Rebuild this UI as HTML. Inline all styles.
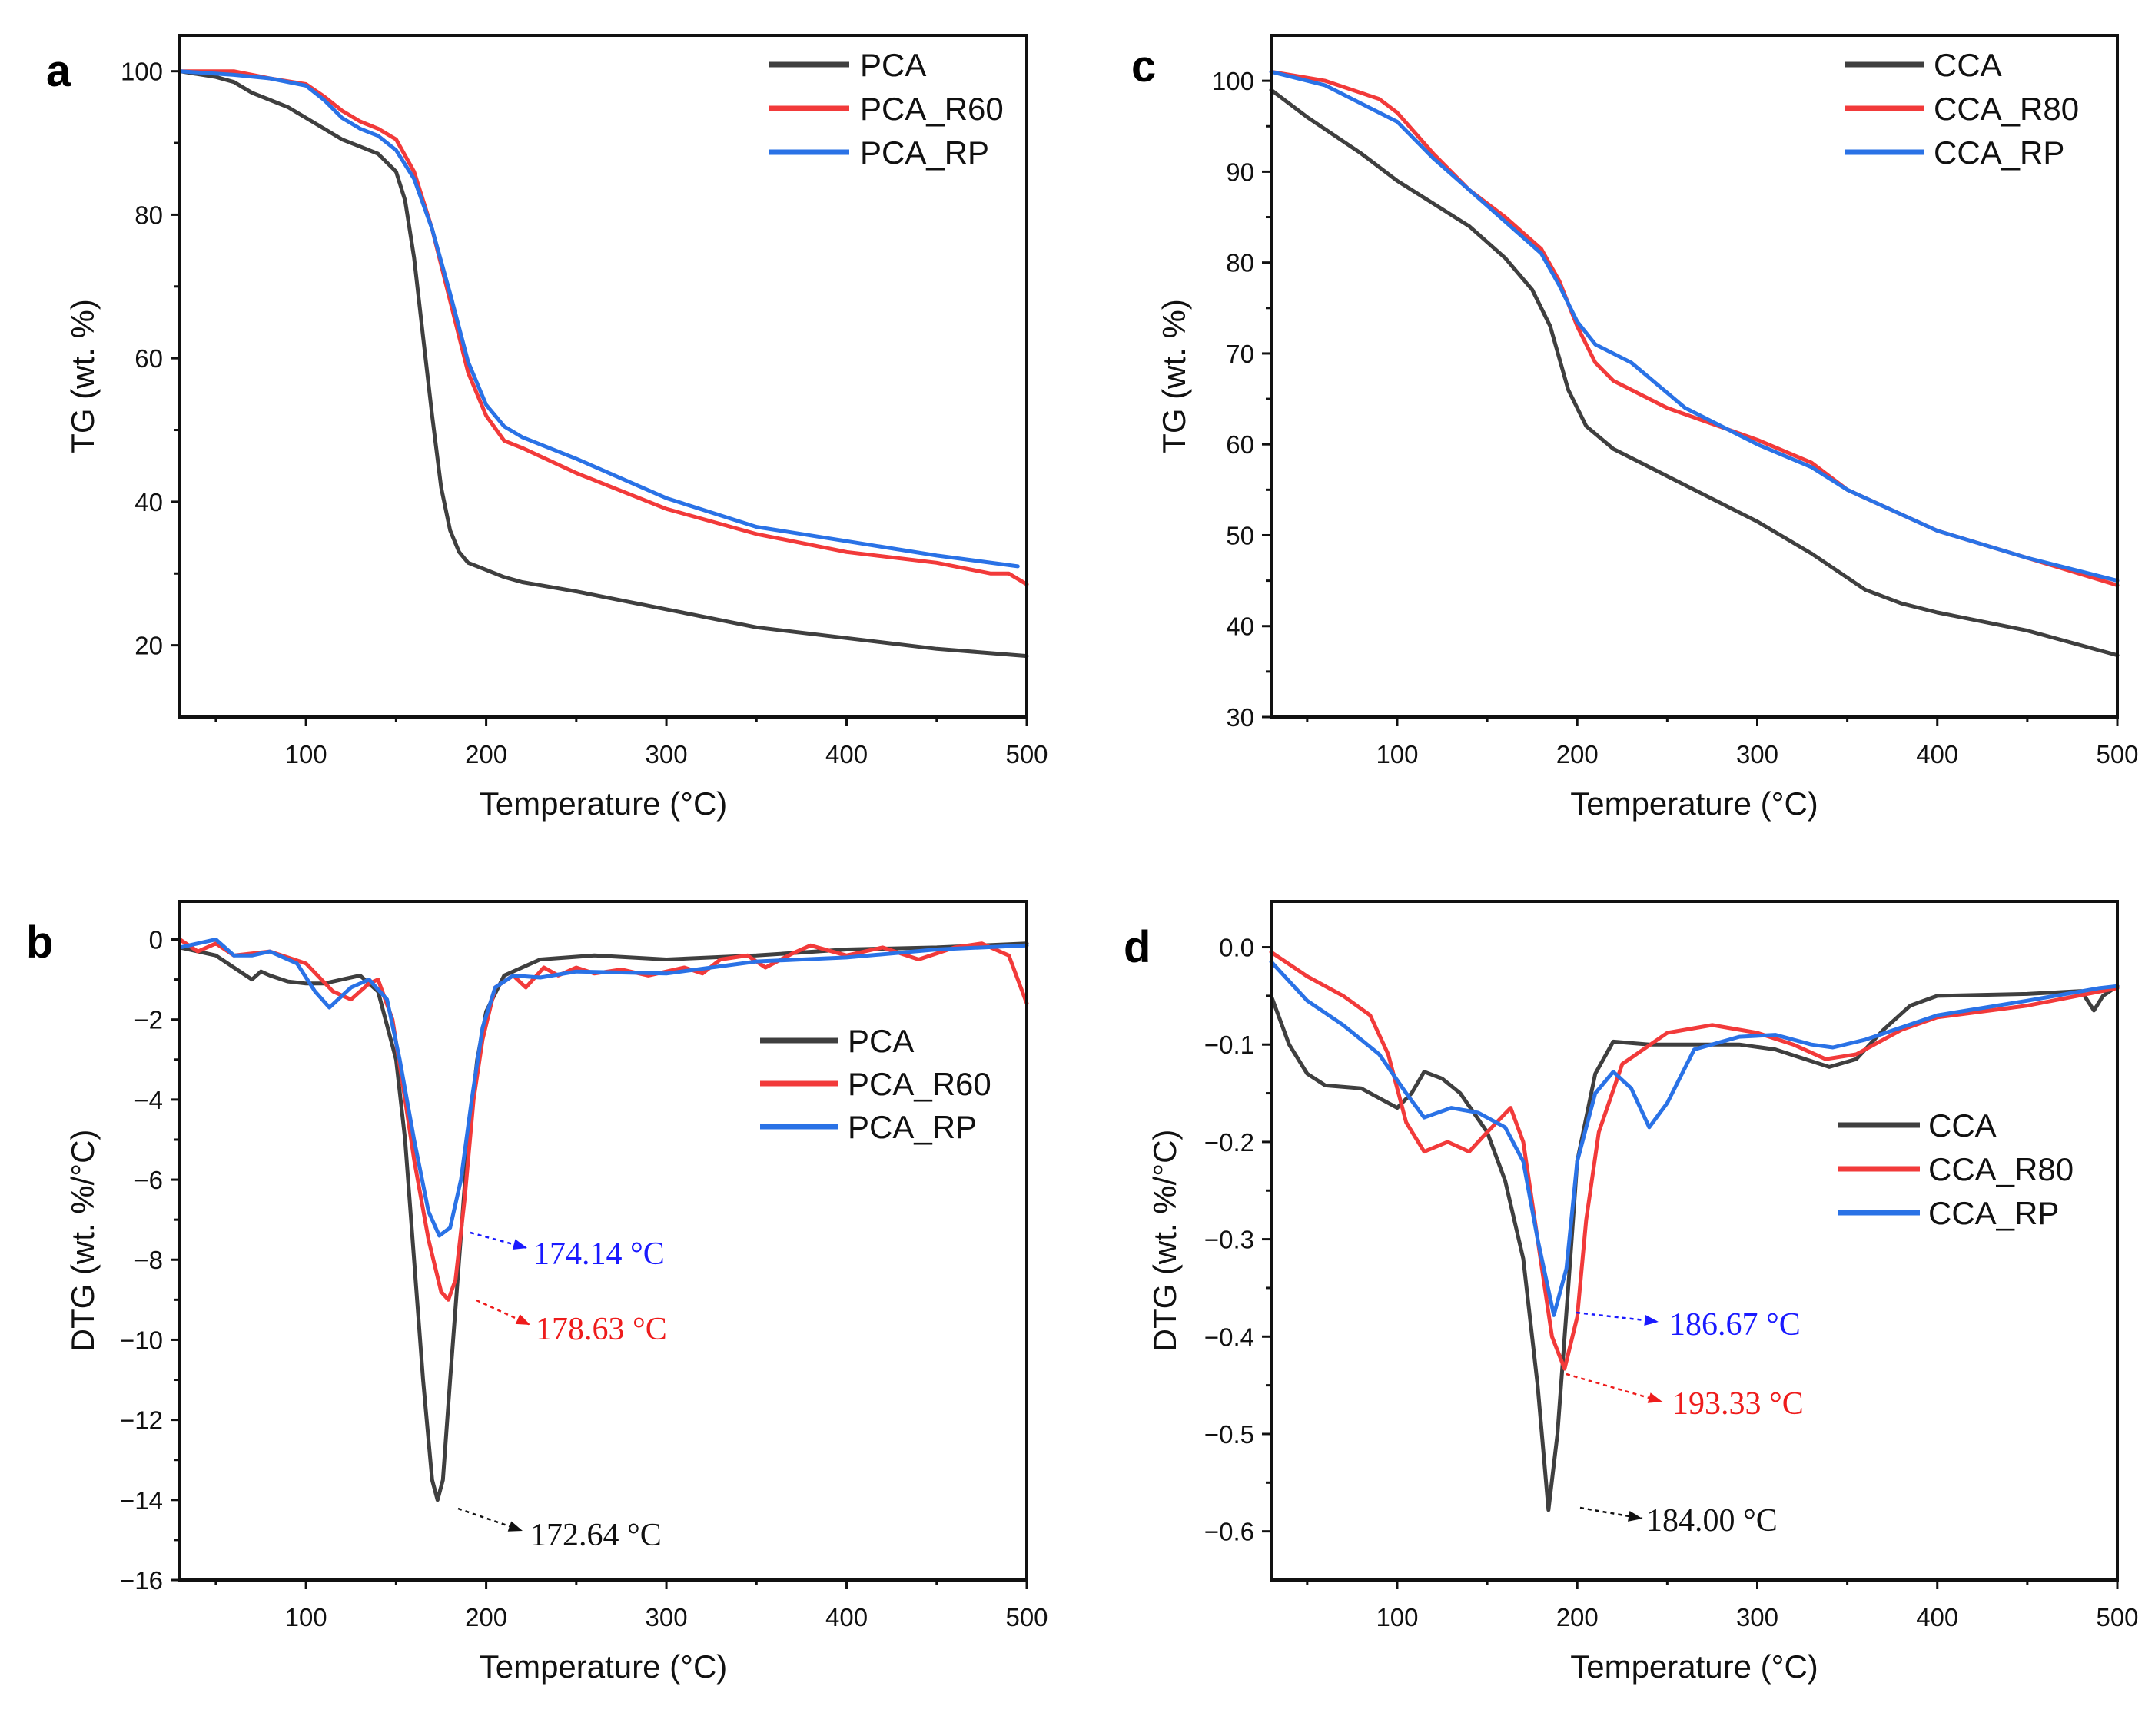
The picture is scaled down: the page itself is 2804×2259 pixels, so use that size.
<!DOCTYPE html>
<html><head><meta charset="utf-8">
<style>
html,body{margin:0;padding:0;background:#fff;}
svg{display:block;font-family:"Liberation Sans",Arial,sans-serif;}
</style></head>
<body>
<svg id="fig" width="2804" height="2259" viewBox="0 0 2804 2259" xmlns="http://www.w3.org/2000/svg"></svg>
<script>
// ---- Panel a data (TG, PCA) ----
const aPCA_T = [30,50,60,70,80,90,100,110,120,130,140,150,155,160,165,170,175,180,185,190,195,200,210,220,250,300,350,400,450,500];
const aPCA_V = [100,99.2,98.5,97,96,95,93.5,92,90.5,89.5,88.5,86,82,74,63,52,42,36,33,31.5,31,30.5,29.5,28.8,27.5,25,22.5,21,19.5,18.5];
const aR60_T = [30,60,80,100,110,120,130,140,150,160,170,180,190,200,210,220,250,300,350,400,450,480,490,500];
const aR60_V = [100,100,99,98.2,96.5,94.5,93,92,90.5,86,78,68,58,52,48.5,47.5,44,39,35.5,33,31.5,30,30,28.5];
const aRP_T = [30,60,80,100,110,120,130,140,150,160,170,180,190,200,210,220,250,300,350,400,450,495];
const aRP_V = [100,99.5,99,98,96,93.5,92,91,89,85,78,69,59.5,53.5,50.5,49,46,40.5,36.5,34.5,32.5,31];
// ---- Panel c data (TG, CCA) ----
const cCCA_T = [30,50,80,100,120,140,160,175,185,195,205,220,250,300,330,360,380,400,450,500];
const cCCA_V = [99,96,92,89,86.5,84,80.5,77,73,66,62,59.5,56.5,51.5,48,44,42.5,41.5,39.5,36.8];
const cR80_T = [30,60,90,100,120,140,160,180,190,200,210,220,250,300,330,350,400,450,500];
const cR80_V = [101,100,98,96.5,92,88,85,81.5,78,73,69,67,64,60.5,58,55,50.5,47.5,44.5];
const cRP_T = [30,60,80,100,120,140,160,180,190,200,210,230,260,300,330,350,400,450,500];
const cRP_V = [101,99.5,97.5,95.5,91.5,88,84.5,81,77.5,73.5,71,69,64,60,57.5,55,50.5,47.5,45];
// ---- Panel b data (DTG, PCA) ----
const bPCA_T = [30,50,60,70,75,80,90,100,110,120,130,140,150,155,160,165,170,173,176,180,185,190,195,200,210,230,260,300,350,400,450,500];
const bPCA_V = [-0.2,-0.4,-0.7,-1.0,-0.8,-0.9,-1.05,-1.1,-1.1,-1.0,-0.9,-1.3,-3,-5,-8,-11,-13.5,-14,-13.5,-11,-8,-5,-3,-1.8,-0.9,-0.5,-0.4,-0.5,-0.4,-0.25,-0.2,-0.1];
const bR60_T = [30,40,50,60,80,100,115,125,135,140,148,155,160,168,175,179,183,188,193,198,205,215,222,232,240,250,260,275,290,310,320,330,345,355,370,380,400,420,440,460,475,490,500];
const bR60_V = [0,-0.3,-0.1,-0.4,-0.3,-0.6,-1.3,-1.5,-1.1,-1.0,-2,-4,-5.5,-7.5,-8.8,-9,-8.5,-6.5,-4,-2.5,-1.2,-0.9,-1.2,-0.7,-0.9,-0.7,-0.85,-0.75,-0.9,-0.7,-0.85,-0.5,-0.4,-0.7,-0.35,-0.15,-0.4,-0.2,-0.5,-0.2,-0.1,-0.4,-1.6];
const bRP_T = [30,40,50,60,70,80,95,105,113,125,135,145,152,160,168,174,180,186,192,198,205,215,230,250,300,350,400,450,500];
const bRP_V = [-0.2,-0.1,0,-0.4,-0.4,-0.3,-0.6,-1.3,-1.7,-1.2,-1.0,-1.5,-3,-5,-6.8,-7.4,-7.2,-6,-4,-2.2,-1.2,-0.9,-0.95,-0.8,-0.85,-0.55,-0.45,-0.25,-0.15];
// ---- Panel d data (DTG, CCA) ----
const dCCA_T = [30,40,50,60,80,90,100,108,115,125,135,150,160,170,178,184,189,195,200,210,220,240,290,310,340,355,370,385,400,450,480,487,492,500];
const dCCA_V = [-0.05,-0.1,-0.13,-0.142,-0.145,-0.155,-0.165,-0.15,-0.128,-0.135,-0.15,-0.19,-0.24,-0.32,-0.45,-0.578,-0.5,-0.35,-0.22,-0.13,-0.097,-0.1,-0.1,-0.105,-0.123,-0.115,-0.085,-0.06,-0.05,-0.048,-0.045,-0.065,-0.05,-0.04];
const dR80_T = [30,50,70,85,95,105,115,128,140,150,163,170,178,186,193,200,205,212,225,250,275,300,320,338,355,380,400,450,500];
const dR80_V = [-0.005,-0.03,-0.05,-0.07,-0.11,-0.18,-0.21,-0.2,-0.21,-0.19,-0.165,-0.2,-0.3,-0.4,-0.433,-0.38,-0.28,-0.19,-0.12,-0.088,-0.08,-0.088,-0.1,-0.115,-0.11,-0.085,-0.072,-0.06,-0.042];
const dRP_T = [30,50,70,90,105,115,130,145,160,170,178,187,194,200,210,220,230,240,250,265,290,310,330,342,360,400,450,490,500];
const dRP_V = [-0.015,-0.055,-0.08,-0.11,-0.15,-0.175,-0.165,-0.17,-0.185,-0.22,-0.3,-0.378,-0.33,-0.22,-0.15,-0.128,-0.145,-0.185,-0.16,-0.105,-0.092,-0.09,-0.1,-0.103,-0.095,-0.07,-0.055,-0.042,-0.04];
// tick labels
const xTicks = [100,200,300,400,500];
const aYTicks = [20,40,60,80,100];
const cYTicks = [30,40,50,60,70,80,90,100];
const bYTicks = [0,-2,-4,-6,-8,-10,-12,-14,-16];
const dYTicks = [0.0,-0.1,-0.2,-0.3,-0.4,-0.5,-0.6];

const NS = "http://www.w3.org/2000/svg";
const svg = document.getElementById('fig');
const COL = {k:'#3f3f3f', r:'#f23a3a', b:'#2a72e6'};
function mk(tag, attrs, parent, text){
  const e = document.createElementNS(NS, tag);
  for (const k in attrs) e.setAttribute(k, attrs[k]);
  if (text !== undefined) e.textContent = text;
  (parent||svg).appendChild(e);
  return e;
}
function panel(cfg){
  const g = mk('g', {});
  
  
  const L=cfg.L,R=cfg.R,T=cfg.T,B=cfg.B;
  const sx = v => L + (v - 30) / (500 - 30) * (R - L);
  const sy = v => B - (v - cfg.ymin) / (cfg.ymax - cfg.ymin) * (B - T);
  // series
  cfg.series.forEach(s => {
    const pts = s.t.map((t,i)=> sx(t).toFixed(1)+','+sy(s.v[i]).toFixed(1)).join(' ');
    const p = mk('polyline', {points:pts, fill:'none', stroke:COL[s.c], 'stroke-width':5, 'stroke-linejoin':'round', 'stroke-linecap':'round'}, g);
    
    
  });
  // frame
  const fr = mk('rect', {x:L, y:T, width:R-L, height:B-T, fill:'none', stroke:'#111', 'stroke-width':4}, g);
  
  
  // x ticks
  for (let v=50; v<=500; v+=50){
    const x = sx(v); const major = v%100===0;
    mk('line', {x1:x, y1:B, x2:x, y2:B+(major?12:7), stroke:'#111', 'stroke-width':3}, g);
  }
  xTicks.forEach(v => {
    const t = mk('text', {x:sx(v), y:B+60, 'font-size':33, 'text-anchor':'middle', fill:'#111'}, g, String(v));
    
    
  });
  // y ticks
  cfg.yTicks.forEach((v,i) => {
    const y = sy(v);
    mk('line', {x1:L-12, y1:y, x2:L, y2:y, stroke:'#111', 'stroke-width':3}, g);
    const t = mk('text', {x:L-22, y:y+12, 'font-size':33, 'text-anchor':'end', fill:'#111'}, g, cfg.fmt(v));
    
    
  });
  const step = Math.abs(cfg.yTicks[1]-cfg.yTicks[0]);
  for (let v = Math.min(...cfg.yTicks) + step/2; v < cfg.ymax; v += step){
    mk('line', {x1:L-7, y1:sy(v), x2:L, y2:sy(v), stroke:'#111', 'stroke-width':3}, g);
  }
  // titles
  const xt = mk('text', {x:(L+R)/2, y:B+127, 'font-size':42, 'text-anchor':'middle', fill:'#111'}, g, 'Temperature (°C)');
  
  
  const yx = cfg.ytx, yy = (T+B)/2;
  const yt = mk('text', {x:yx, y:yy, 'font-size':42, 'text-anchor':'middle', fill:'#111', transform:`rotate(-90 ${yx} ${yy})`}, g, cfg.ytitle);
  
  
  const pl = mk('text', {x:cfg.letter[0], y:cfg.letter[1], 'font-size':58, 'font-weight':'bold', fill:'#000'}, g, cfg.letterText);
  
  
  // legend
  cfg.series.forEach((s,i) => {
    const y = cfg.leg.y + i*cfg.leg.dy;
    const lg = mk('g', {}, g);
    
    
    mk('line', {x1:cfg.leg.x1, y1:y, x2:cfg.leg.x2, y2:y, stroke:COL[s.c], 'stroke-width':7}, lg);
    mk('text', {x:cfg.leg.tx, y:y+15, 'font-size':42, fill:'#111'}, lg, s.label);
  });
  // annotations
  (cfg.ann||[]).forEach(a => {
    const ag = mk('g', {}, g);
    
    
    mk('line', {x1:a.x1, y1:a.y1, x2:a.x2, y2:a.y2, stroke:a.c, 'stroke-width':2.5, 'stroke-dasharray':'5,5'}, ag);
    const ang = Math.atan2(a.y2-a.y1, a.x2-a.x1);
    const hx = a.x2, hy = a.y2, l=18, w=7;
    const p1x = hx - l*Math.cos(ang) + w*Math.sin(ang), p1y = hy - l*Math.sin(ang) - w*Math.cos(ang);
    const p2x = hx - l*Math.cos(ang) - w*Math.sin(ang), p2y = hy - l*Math.sin(ang) + w*Math.cos(ang);
    mk('polygon', {points:`${hx},${hy} ${p1x},${p1y} ${p2x},${p2y}`, fill:a.c}, ag);
    mk('text', {x:a.tx, y:a.ty, 'font-size':42, fill:a.c, 'font-family':'"Liberation Serif",serif'}, ag, a.text);
  });
}
const f0 = v => String(v);
const f1 = v => (v===0?'0.0':v.toFixed(1)).replace('-','−');
const fn = v => String(v).replace('-','−');
panel({name:'panel-a-tg-pca', L:234,R:1336,T:46,B:933, ymin:10, ymax:105, yTicks:aYTicks, fmt:f0,
  ytitle:'TG (wt. %)', ytx:122, letter:[60,112], letterText:'a',
  leg:{x1:1001,x2:1105,tx:1119,y:84,dy:57},
  series:[{t:aPCA_T,v:aPCA_V,c:'k',label:'PCA'},{t:aR60_T,v:aR60_V,c:'r',label:'PCA_R60'},{t:aRP_T,v:aRP_V,c:'b',label:'PCA_RP'}]});
panel({name:'panel-c-tg-cca', L:1654,R:2755,T:46,B:933, ymin:30, ymax:105, yTicks:cYTicks, fmt:f0,
  ytitle:'TG (wt. %)', ytx:1542, letter:[1472,106], letterText:'c',
  leg:{x1:2400,x2:2503,tx:2516,y:84,dy:57},
  series:[{t:cCCA_T,v:cCCA_V,c:'k',label:'CCA'},{t:cR80_T,v:cR80_V,c:'r',label:'CCA_R80'},{t:cRP_T,v:cRP_V,c:'b',label:'CCA_RP'}]});
panel({name:'panel-b-dtg-pca', L:234,R:1336,T:1173,B:2056, ymin:-16, ymax:0.95, yTicks:bYTicks, fmt:fn,
  ytitle:'DTG (wt. %/°C)', ytx:122, letter:[34,1246], letterText:'b',
  leg:{x1:989,x2:1091,tx:1103,y:1354,dy:56},
  series:[{t:bPCA_T,v:bPCA_V,c:'k',label:'PCA'},{t:bR60_T,v:bR60_V,c:'r',label:'PCA_R60'},{t:bRP_T,v:bRP_V,c:'b',label:'PCA_RP'}],
  ann:[{x1:612,y1:1604,x2:686,y2:1624,c:'#1a1aff',tx:694,ty:1645,text:'174.14 °C'},
       {x1:620,y1:1692,x2:690,y2:1724,c:'#ee1c1c',tx:697,ty:1743,text:'178.63 °C'},
       {x1:596,y1:1963,x2:680,y2:1992,c:'#111',tx:690,ty:2011,text:'172.64 °C'}]});
panel({name:'panel-d-dtg-cca', L:1654,R:2755,T:1173,B:2056, ymin:-0.65, ymax:0.047, yTicks:dYTicks, fmt:f1,
  ytitle:'DTG (wt. %/°C)', ytx:1530, letter:[1462,1252], letterText:'d',
  leg:{x1:2391,x2:2498,tx:2509,y:1464,dy:57},
  series:[{t:dCCA_T,v:dCCA_V,c:'k',label:'CCA'},{t:dR80_T,v:dR80_V,c:'r',label:'CCA_R80'},{t:dRP_T,v:dRP_V,c:'b',label:'CCA_RP'}],
  ann:[{x1:2051,y1:1708,x2:2158,y2:1720,c:'#1a1aff',tx:2172,ty:1737,text:'186.67 °C'},
       {x1:2038,y1:1788,x2:2163,y2:1824,c:'#ee1c1c',tx:2176,ty:1840,text:'193.33 °C'},
       {x1:2056,y1:1962,x2:2137,y2:1976,c:'#111',tx:2142,ty:1992,text:'184.00 °C'}]});
</script>
</body></html>
